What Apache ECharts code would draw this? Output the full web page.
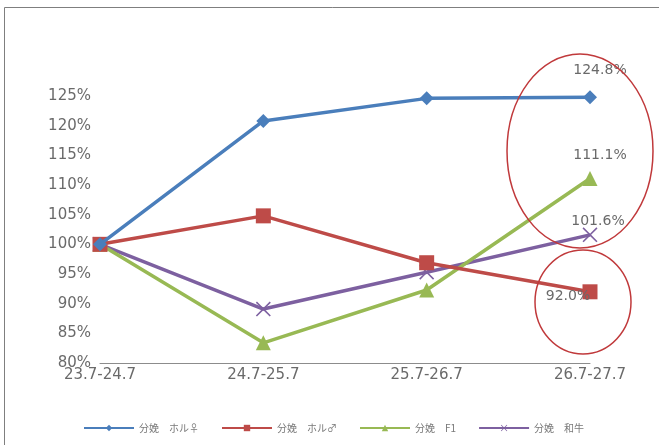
<!DOCTYPE html>
<html>
<head>
<meta charset="utf-8">
<script src="https://cdn.jsdelivr.net/npm/echarts@6/dist/echarts.min.js"></script>
<style>
  html, body { margin: 0; padding: 0; background: #fff; }
  #chart { width: 659px; height: 445px; }
</style>
</head>
<body>
<div id="chart"></div>
<script>
// Calving index by period (base period = 100%)
const periods = ['23.7-24.7', '24.7-25.7', '25.7-26.7', '26.7-27.7'];
const seriesNames = ['分娩　ホル♀', '分娩　ホル♂', '分娩　F1', '分娩　和牛'];
const holFemale = [100, 120.8, 124.6, 124.8];
const holMale = [100, 104.8, 96.9, 92.0];
const crossF1 = [100, 83.4, 92.3, 111.1];
const wagyu = [100, 89.1, 95.3, 101.6];
const yTicks = { min: 80, max: 125, step: 5 };

const colors = ['#4a7ebb', '#be4b48', '#98b954', '#7d60a0'];
const symbols = [
  'diamond',
  'rect',
  'triangle',
  'path://M0,1.5L1.5,0L10,8.5L18.5,0L20,1.5L11.5,10L20,18.5L18.5,20L10,11.5L1.5,20L0,18.5L8.5,10Z'
];
const symbolSizes = [14, 15, 15, 15];
// where the value text of each series' last point sits
const labelSide = ['top', 'inside', 'top', 'top'];
const labelPos = [[10, -8], [-22, 5], [10, -4], [8, 6]];

const textFont = '"DejaVu Sans", sans-serif';
const grey = '#6a6a6a';

function buildSeries(name, values, i) {
  return {
    name: name,
    type: 'line',
    data: values.map((v, k) => k === values.length - 1 ? {
      value: v,
      label: {
        show: true,
        position: labelSide[i],
        offset: labelPos[i],
        formatter: p => p.value.toFixed(1) + '%',
        color: grey,
        fontSize: 14,
        fontFamily: textFont
      }
    } : v),
    symbol: symbols[i],
    symbolSize: symbolSizes[i],
    showAllSymbol: true,
    lineStyle: { width: 3.5, color: colors[i] },
    itemStyle: { color: colors[i] },
    z: 10 - i
  };
}

const chart = echarts.init(document.getElementById('chart'), null, { renderer: 'canvas' });
chart.setOption({
  animation: false,
  backgroundColor: '#ffffff',
  grid: { left: 100, right: 69, top: 96, bottom: 82 },
  xAxis: {
    type: 'category',
    data: periods,
    boundaryGap: false,
    axisLine: { show: true, lineStyle: { color: '#8c8c8c', width: 1 } },
    axisTick: { show: false },
    axisLabel: { color: grey, fontSize: 15, fontFamily: textFont, margin: 5 }
  },
  yAxis: {
    type: 'value',
    min: yTicks.min,
    max: yTicks.max,
    interval: yTicks.step,
    axisLine: { show: false },
    axisTick: { show: false },
    splitLine: { show: false },
    axisLabel: {
      color: grey, fontSize: 15, fontFamily: textFont, margin: 9,
      formatter: v => v + '%'
    }
  },
  legend: {
    left: 78,
    top: 418,
    itemWidth: 50,
    itemHeight: 8,
    itemGap: 22,
    textStyle: { color: '#7a7a7a', fontSize: 10, fontFamily: '"Noto Sans CJK JP", sans-serif' },
    data: seriesNames
  },
  series: [
    buildSeries(seriesNames[0], holFemale, 0),
    buildSeries(seriesNames[1], holMale, 1),
    buildSeries(seriesNames[2], crossF1, 2),
    buildSeries(seriesNames[3], wagyu, 3)
  ],
  graphic: [
    {
      type: 'rect',
      shape: { x: 4.5, y: 7.5, width: 700, height: 500 },
      style: { fill: 'none', stroke: '#7f7f7f', lineWidth: 1 },
      silent: true, z: 0
    },
    {
      type: 'ellipse',
      shape: { cx: 580, cy: 151, rx: 73, ry: 97 },
      style: { fill: 'none', stroke: '#c0393b', lineWidth: 1.5 },
      silent: true, z: 100
    },
    {
      type: 'ellipse',
      shape: { cx: 583, cy: 302, rx: 48, ry: 52 },
      style: { fill: 'none', stroke: '#c0393b', lineWidth: 1.5 },
      silent: true, z: 100
    }
  ]
});
</script>
</body>
</html>
